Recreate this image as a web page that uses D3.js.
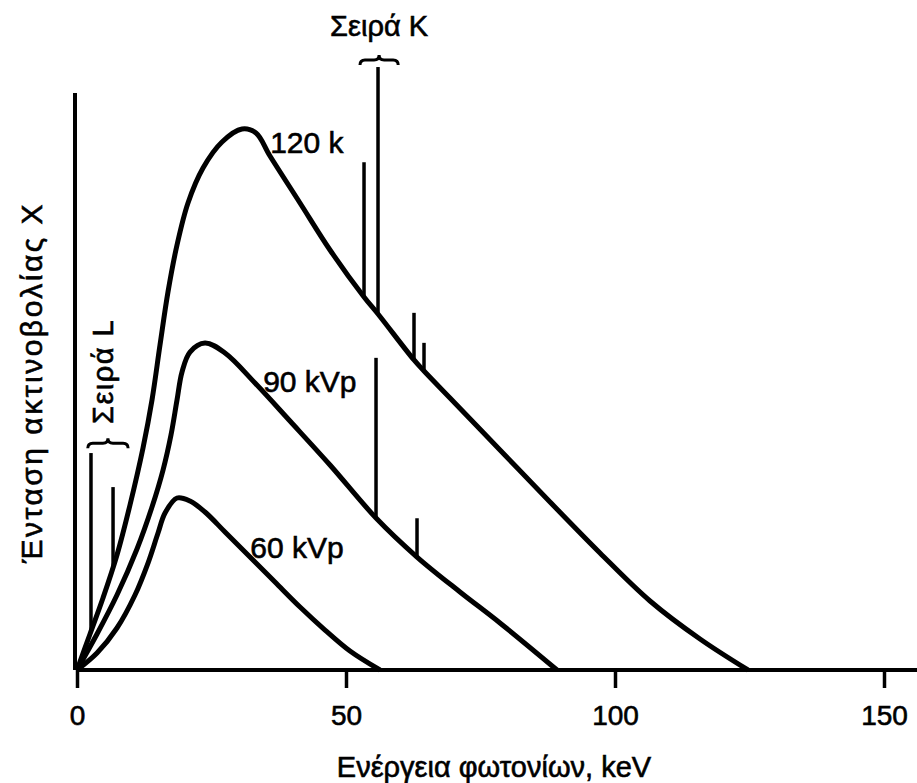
<!DOCTYPE html>
<html>
<head>
<meta charset="utf-8">
<script src="https://cdn.jsdelivr.net/npm/d3@7"></script>
<style>
  body { margin: 0; background: #fff; }
  svg { display: block; font-family: "Liberation Sans", Arial, sans-serif; }
</style>
</head>
<body>
<div id="chart"></div>
<script>
// bremsstrahlung spectra, [keV, relative intensity]
const spectrum120 = [
  [0, 0], [2.42, 6.24], [4.83, 12.48], [7.43, 19.93], [9.85, 28.6], [12.27, 38.47],
  [13.94, 46.79], [15.43, 56.33], [16.91, 65.51], [18.59, 73.66], [20.63, 80.94],
  [23.42, 87.0], [26.95, 91.51], [30.67, 93.76], [33.27, 93.07], [35.87, 89.08],
  [41.45, 80.94], [47.03, 72.79], [53.35, 64.64], [55.95, 61.7], [62.64, 53.73],
  [64.5, 51.82], [69.33, 47.14], [78.62, 38.13], [87.92, 29.12], [97.21, 20.28],
  [106.51, 11.96], [115.8, 5.37], [124.72, 0]
];
const spectrum90 = [
  [0, 0], [3.72, 6.24], [7.43, 13.0], [11.15, 20.97], [13.94, 28.25], [15.99, 34.66],
  [17.47, 40.73], [18.59, 46.79], [19.52, 51.65], [21.0, 55.11], [23.79, 56.67],
  [27.51, 54.94], [33.09, 49.74], [39.59, 43.15], [47.03, 35.53], [55.58, 26.34],
  [63.2, 19.58], [71.19, 13.52], [78.62, 8.15], [89.22, 0]
];
const spectrum60 = [
  [0, 0], [3.72, 2.95], [7.43, 7.28], [10.78, 13.0], [13.2, 18.54], [15.06, 23.74],
  [16.36, 27.21], [18.59, 29.81], [21.0, 29.29], [23.79, 27.38], [27.51, 23.92],
  [32.16, 19.58], [36.8, 15.25], [41.45, 10.92], [46.1, 6.93], [50.74, 3.29], [56.32, 0]
];

// characteristic lines, [keV, base, top]
const linesL = [[2.6, 6.7, 37.6], [6.7, 17.5, 31.7]];
const linesK120 = [[53.35, 64.64, 88.0], [55.95, 61.7, 104.5], [62.64, 53.73, 61.9], [64.5, 51.82, 56.7]];
const linesK90 = [[55.58, 26.34, 54.1], [63.2, 19.58, 26.3]];

// braces, [keV from, keV to, intensity]
const braceL = [2.0, 9.5, 39.3];
const braceK = [52.6, 59.7, 105.7];

const xTicks = [0, 50, 100, 150];
const curveNames = ["120 k", "90 kVp", "60 kVp"];
const xTitle = "Ενέργεια φωτονίων, keV";
const yTitle = "Ένταση ακτινοβολίας X";

const width = 917, height = 783;

const x = d3.scaleLinear().domain([0, 150]).range([77, 884]);
const y = d3.scaleLinear().domain([0, 100]).range([670, 93]);

const svg = d3.select("#chart").append("svg")
  .attr("width", width)
  .attr("height", height)
  .attr("viewBox", [0, 0, width, height]);

svg.append("rect").attr("width", width).attr("height", height).attr("fill", "#fff");

// axes
svg.append("line")
  .attr("x1", x(0) - 2).attr("x2", x(0) - 2)
  .attr("y1", y(100)).attr("y2", y(0))
  .attr("stroke", "#000").attr("stroke-width", 4);

svg.append("line")
  .attr("x1", x(0)).attr("x2", width)
  .attr("y1", y(0)).attr("y2", y(0))
  .attr("stroke", "#000").attr("stroke-width", 4);

const xAxis = svg.append("g")
  .attr("transform", `translate(0, ${y(0)})`)
  .call(d3.axisBottom(x).tickValues(xTicks).tickSizeInner(18).tickSizeOuter(0).tickPadding(17));
xAxis.select(".domain").remove();
xAxis.selectAll(".tick line").attr("stroke", "#000").attr("stroke-width", 3.5);
xAxis.selectAll(".tick text")
  .attr("fill", "#000")
  .attr("stroke", "#000")
  .attr("stroke-width", 0.6)
  .style("font-family", "'Liberation Sans', Arial, sans-serif")
  .style("font-size", "28px");

// spectra
const line = d3.line()
  .x((d) => x(d[0]))
  .y((d) => y(d[1]))
  .curve(d3.curveCatmullRom.alpha(0.5));

svg.append("g")
  .selectAll("path")
  .data([spectrum120, spectrum90, spectrum60])
  .join("path")
  .attr("d", line)
  .attr("fill", "none")
  .attr("stroke", "#000")
  .attr("stroke-width", 5)
  .attr("stroke-linejoin", "round");

// characteristic lines
svg.append("g")
  .selectAll("line")
  .data([...linesL, ...linesK120, ...linesK90])
  .join("line")
  .attr("x1", (d) => x(d[0])).attr("x2", (d) => x(d[0]))
  .attr("y1", (d) => y(d[1])).attr("y2", (d) => y(d[2]))
  .attr("stroke", "#000")
  .attr("stroke-width", 3.5);

// curly braces, cusp pointing up
function bracePath([e1, e2, v]) {
  const x1 = x(e1), x2 = x(e2), yy = y(v), xm = (x1 + x2) / 2, h = 5;
  return `M${x1},${yy + h} Q${x1},${yy} ${x1 + h},${yy} L${xm - h},${yy} Q${xm},${yy} ${xm},${yy - h}` +
    ` Q${xm},${yy} ${xm + h},${yy} L${x2 - h},${yy} Q${x2},${yy} ${x2},${yy + h}`;
}

svg.append("g")
  .selectAll("path")
  .data([braceL, braceK])
  .join("path")
  .attr("d", bracePath)
  .attr("fill", "none")
  .attr("stroke", "#000")
  .attr("stroke-width", 3);

// labels
const texts = svg.append("g")
  .attr("fill", "#000")
  .attr("stroke", "#000")
  .attr("stroke-width", 0.6);

const labelPos = [[35.9, 89.6], [34.6, 48.2], [32.2, 19.4]];
texts.selectAll("text.curve")
  .data(curveNames)
  .join("text")
  .attr("class", "curve")
  .attr("x", (d, i) => x(labelPos[i][0]))
  .attr("y", (d, i) => y(labelPos[i][1]))
  .attr("font-size", 30)
  .text((d) => d);

texts.append("text")
  .attr("x", x((braceK[0] + braceK[1]) / 2))
  .attr("y", 36)
  .attr("text-anchor", "middle")
  .attr("font-size", 29)
  .text("Σειρά K");

texts.append("text")
  .attr("transform", "translate(113, 424) rotate(-90)")
  .attr("font-size", 29)
  .attr("letter-spacing", 1.5)
  .text("Σειρά L");

texts.append("text")
  .attr("x", 494)
  .attr("y", 777)
  .attr("text-anchor", "middle")
  .attr("font-size", 29)
  .text(xTitle);

texts.append("text")
  .attr("transform", "translate(42, 563) rotate(-90)")
  .attr("font-size", 30)
  .attr("letter-spacing", 2.5)
  .text(yTitle);
</script>
</body>
</html>
